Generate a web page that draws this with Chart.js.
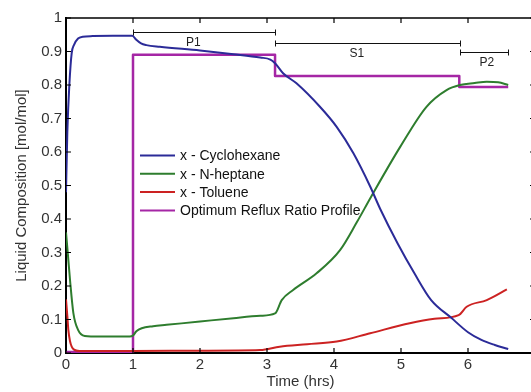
<!DOCTYPE html>
<html>
<head>
<meta charset="utf-8">
<script src="https://cdn.jsdelivr.net/npm/chart.js@4.4.1/dist/chart.umd.min.js"></script>
<style>
  html, body { margin: 0; padding: 0; background: #fff; overflow: hidden; }
</style>
</head>
<body>
<canvas id="chart" width="560" height="392"></canvas>
<script>
// Cyclohexane liquid composition
const cycloTime = [0, 0.02, 0.05, 0.085, 0.12, 0.18, 0.25, 0.4, 0.7, 0.99, 1.05, 1.12, 1.2, 1.4, 2.0, 2.5, 2.9, 3.05, 3.12, 3.24, 3.44, 3.79, 4.04, 4.29, 4.54, 4.69, 4.95, 5.2, 5.45, 5.75, 6.0, 6.2, 6.4, 6.6];
const cyclohexane = [0.48, 0.66, 0.8, 0.895, 0.92, 0.939, 0.944, 0.946, 0.947, 0.947, 0.935, 0.924, 0.919, 0.914, 0.903, 0.892, 0.882, 0.876, 0.865, 0.835, 0.805, 0.735, 0.675, 0.596, 0.497, 0.43, 0.327, 0.238, 0.158, 0.105, 0.062, 0.039, 0.024, 0.012];

// N-heptane
const heptaneTime = [0, 0.03, 0.06, 0.11, 0.18, 0.28, 0.5, 0.95, 1.0, 1.05, 1.13, 1.3, 1.5, 2.0, 2.5, 2.9, 3.12, 3.22, 3.39, 3.74, 4.09, 4.34, 4.55, 4.99, 5.38, 5.68, 5.88, 6.1, 6.28, 6.45, 6.6];
const heptane = [0.36, 0.29, 0.218, 0.119, 0.069, 0.051, 0.049, 0.049, 0.052, 0.065, 0.074, 0.08, 0.084, 0.094, 0.104, 0.111, 0.118, 0.158, 0.188, 0.238, 0.307, 0.39, 0.465, 0.616, 0.735, 0.785, 0.8, 0.806, 0.81, 0.808, 0.8];

// Toluene
const tolueneTime = [0, 0.02, 0.035, 0.06, 0.085, 0.12, 0.2, 1.0, 2.0, 2.9, 3.19, 3.6, 4.04, 4.54, 5.13, 5.5, 5.86, 5.98, 6.28, 6.58];
const toluene = [0.16, 0.11, 0.069, 0.035, 0.019, 0.01, 0.006, 0.006, 0.007, 0.009, 0.019, 0.026, 0.034, 0.059, 0.089, 0.102, 0.113, 0.138, 0.158, 0.19];

// optimum reflux ratio profile (piecewise constant)
const refluxTime = [0, 1, 1, 3.12, 3.12, 5.87, 5.87, 6.6];
const reflux = [0.003, 0.003, 0.89, 0.89, 0.827, 0.827, 0.794, 0.794];

// operating periods shown above the curves
const phaseNames = ['P1', 'S1', 'P2'];
const phaseStart = [1, 3.12, 5.88];
const phaseEnd = [3.12, 5.88, 6.6];
const phaseLevel = [0.957, 0.925, 0.898];
const phaseLabelX = [1.9, 4.34, 6.28];

const xTickLabels = ['0', '1', '2', '3', '4', '5', '6'];
const yTickLabels = ['0', '0.1', '0.2', '0.3', '0.4', '0.5', '0.6', '0.7', '0.8', '0.9', '1'];

const seriesNames = ['x - Cyclohexane', 'x - N-heptane', 'x - Toluene', 'Optimum Reflux Ratio Profile'];
const FONT = 'Arial, "Liberation Sans", sans-serif';

function toPoints(xs, ys) {
  return xs.map((x, i) => ({ x: x, y: ys[i] }));
}

const framePlugin = {
  id: 'frame',
  afterDatasetsDraw(chart) {
    const { ctx, chartArea: a, scales: { x, y } } = chart;
    ctx.save();
    ctx.strokeStyle = '#000';
    ctx.lineWidth = 1.5;
    ctx.beginPath();
    ctx.moveTo(a.left, a.top);
    ctx.lineTo(a.right, a.top);
    ctx.lineTo(a.right, a.bottom);
    ctx.stroke();

    // inward tick marks on all four sides
    ctx.lineWidth = 1.2;
    ctx.beginPath();
    x.ticks.forEach(t => {
      const px = x.getPixelForValue(t.value);
      ctx.moveTo(px, a.bottom);
      ctx.lineTo(px, a.bottom - 5);
      ctx.moveTo(px, a.top);
      ctx.lineTo(px, a.top + 5);
    });
    y.ticks.forEach(t => {
      const py = y.getPixelForValue(t.value);
      ctx.moveTo(a.left, py);
      ctx.lineTo(a.left + 5, py);
      ctx.moveTo(a.right, py);
      ctx.lineTo(a.right - 5, py);
    });
    ctx.stroke();

    // period brackets
    ctx.strokeStyle = '#111';
    ctx.lineWidth = 1;
    ctx.fillStyle = '#222';
    ctx.font = '12px ' + FONT;
    ctx.textAlign = 'center';
    ctx.textBaseline = 'middle';
    phaseNames.forEach((name, i) => {
      const x0 = Math.round(x.getPixelForValue(phaseStart[i])) + 0.5;
      const x1 = Math.round(x.getPixelForValue(phaseEnd[i])) + 0.5;
      const py = Math.round(y.getPixelForValue(phaseLevel[i])) + 0.5;
      ctx.beginPath();
      ctx.moveTo(x0, py);
      ctx.lineTo(x1, py);
      ctx.moveTo(x0, py - 3);
      ctx.lineTo(x0, py + 3);
      ctx.moveTo(x1, py - 3);
      ctx.lineTo(x1, py + 3);
      ctx.stroke();
      ctx.fillText(name, x.getPixelForValue(phaseLabelX[i]), py + 10);
    });

    // legend inside the plot
    ctx.font = '14px ' + FONT;
    ctx.textAlign = 'left';
    ctx.fillStyle = '#111';
    chart.data.datasets.forEach((ds, i) => {
      const ly = 155.5 + i * 18.3;
      ctx.strokeStyle = ds.borderColor;
      ctx.lineWidth = 2;
      ctx.beginPath();
      ctx.moveTo(140, ly);
      ctx.lineTo(175, ly);
      ctx.stroke();
      ctx.fillText(ds.label, 180, ly + 1);
    });
    ctx.restore();
  }
};

new Chart(document.getElementById('chart'), {
  type: 'line',
  data: {
    datasets: [
      { label: seriesNames[0], data: toPoints(cycloTime, cyclohexane), borderColor: '#2b2b98', borderWidth: 2, order: 1 },
      { label: seriesNames[1], data: toPoints(heptaneTime, heptane), borderColor: '#2e7d2e', borderWidth: 2, order: 2 },
      { label: seriesNames[2], data: toPoints(tolueneTime, toluene), borderColor: '#cc2222', borderWidth: 2, order: 3 },
      { label: seriesNames[3], data: toPoints(refluxTime, reflux), borderColor: '#a526a5', borderWidth: 2.5, order: 4, cubicInterpolationMode: 'default', tension: 0 }
    ]
  },
  options: {
    responsive: false,
    animation: false,
    elements: {
      point: { radius: 0 },
      line: { cubicInterpolationMode: 'monotone', borderJoinStyle: 'round' }
    },
    layout: { padding: { left: 0, right: 25, top: 18, bottom: 0 } },
    plugins: {
      legend: { display: false },
      tooltip: { enabled: false }
    },
    scales: {
      x: {
        type: 'linear',
        min: 0,
        max: 7,
        afterFit: s => { s.height = 39; },
        grid: { display: false, drawTicks: false },
        border: { display: true, color: '#000', width: 2 },
        ticks: {
          stepSize: 1,
          padding: 3,
          color: '#333',
          font: { family: FONT, size: 15 },
          callback: (v) => xTickLabels[v] !== undefined ? xTickLabels[v] : ''
        },
        title: {
          display: true,
          text: 'Time (hrs)',
          color: '#333',
          font: { family: FONT, size: 15 },
          padding: { top: 0, bottom: 1 }
        }
      },
      y: {
        min: 0,
        max: 1,
        afterFit: s => { s.width = 66; },
        grid: { display: false, drawTicks: false },
        border: { display: true, color: '#000', width: 2 },
        ticks: {
          stepSize: 0.1,
          padding: 4,
          color: '#333',
          font: { family: FONT, size: 15 },
          callback: (v) => yTickLabels[Math.round(v * 10)]
        },
        title: {
          display: true,
          text: 'Liquid Composition [mol/mol]',
          color: '#333',
          font: { family: FONT, size: 15 },
          padding: { top: 13, bottom: 0 }
        }
      }
    }
  },
  plugins: [framePlugin]
});
</script>
</body>
</html>
